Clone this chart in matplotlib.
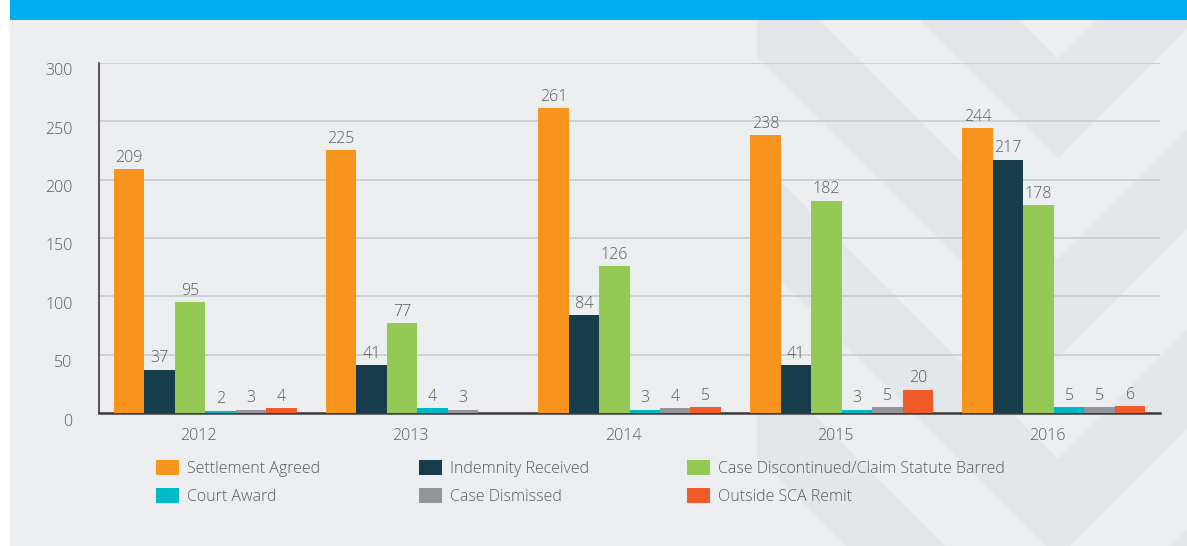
import matplotlib
matplotlib.use("Agg")
import matplotlib.pyplot as plt
import numpy as np
from matplotlib.patches import Rectangle, Polygon, Patch
from matplotlib.transforms import ScaledTranslation

years = ["2012", "2013", "2014", "2015", "2016"]
series = [
    "Settlement Agreed",
    "Indemnity Received",
    "Case Discontinued/Claim Statute Barred",
    "Court Award",
    "Case Dismissed",
    "Outside SCA Remit",
]
settlement = [209, 225, 261, 238, 244]
indemnity = [37, 41, 84, 41, 217]
discontinued = [95, 77, 126, 182, 178]
court_award = [2, 4, 3, 3, 5]
dismissed = [3, 3, 4, 5, 5]
outside_remit = [4, None, 5, 20, 6]
colors = ["#F7941D", "#173C4C", "#95C955", "#00B9C8", "#939598", "#F15A29"]

values = [settlement, indemnity, discontinued, court_award, dismissed, outside_remit]

W, H = 1187, 546
TEXT = "#58595B"
FS = 11.5
FONT = ["Open Sans", "DejaVu Sans"]
plt.rcParams["font.family"] = FONT

fig = plt.figure(figsize=(W / 100, H / 100), dpi=100)
fig.patch.set_facecolor("white")

# page background: blue header band, grey panel, faint chevrons
bg = fig.add_axes([0, 0, 1, 1])
bg.set_xlim(0, W)
bg.set_ylim(H, 0)
bg.axis("off")
bg.add_patch(Rectangle((10, 20), W - 10, H - 20, facecolor="#EDEEF0", edgecolor="none"))
bg.add_patch(Rectangle((10, 0), W - 10, 20, facecolor="#00AEEF", edgecolor="none"))

clip = Rectangle((757, 20), W - 757, H - 20, transform=bg.transData)
tip_x, thick, arm = 1058, 99, 600
for tip_y in [-42, 158, 358, 558, 758]:
    pts = [(tip_x - arm, tip_y - arm), (tip_x, tip_y), (tip_x + arm, tip_y - arm),
           (tip_x + arm, tip_y - thick - arm), (tip_x, tip_y - thick),
           (tip_x - arm, tip_y - thick - arm)]
    chev = Polygon(pts, closed=True, facecolor="#E4E7E9", edgecolor="none")
    bg.add_patch(chev)
    chev.set_clip_path(clip)

# main chart area
left, right, top, bottom = 99, 1160, 63, 413
ax = fig.add_axes([left / W, 1 - bottom / H, (right - left) / W, (bottom - top) / H])
ax.set_facecolor("none")

x = np.arange(len(years))
bw = 0.1437
for i, (name, vals, c) in enumerate(zip(series, values, colors)):
    pos = x + (i - 2.5) * bw
    for xp, v in zip(pos, vals):
        if v is None:
            continue
        ax.bar(xp, v, width=bw, color=c, zorder=3)
        ax.annotate(str(v), (xp, v), xytext=(0, 2.5), textcoords="offset points",
                    ha="center", va="bottom", fontsize=FS, color=TEXT,
                    fontweight="light", zorder=4)

ax.set_xlim(-0.5, len(years) - 0.5)
ax.set_ylim(0, 300)
ax.set_yticks(np.arange(0, 301, 50))
ax.set_xticks(x)
ax.set_xticklabels(years)
ax.grid(axis="y", color="#C6C8CA", linewidth=1.1, zorder=0)
ax.set_axisbelow(True)
ax.tick_params(length=0, labelsize=FS, labelcolor=TEXT)
ax.tick_params(axis="y", pad=19)
ax.tick_params(axis="x", pad=11)
for lab in ax.get_yticklabels():
    lab.set_fontweight("light")
    lab.set_transform(lab.get_transform() + ScaledTranslation(0, -0.065, fig.dpi_scale_trans))
for lab in ax.get_xticklabels():
    lab.set_fontweight("light")
    lab.set_transform(lab.get_transform() + ScaledTranslation(-0.065, 0, fig.dpi_scale_trans))

for s in ["top", "right"]:
    ax.spines[s].set_visible(False)
ax.spines["left"].set_color("#3C3C3E")
ax.spines["left"].set_linewidth(1.2)
ax.spines["bottom"].set_color("#3C3C3E")
ax.spines["bottom"].set_linewidth(1.8)

# legend laid out row by row in three columns
handles = [Patch(facecolor=c, edgecolor="none") for c in colors]
order = [0, 3, 1, 4, 2, 5]
leg = fig.legend([handles[k] for k in order], [series[k] for k in order],
                 ncol=3, loc="upper left", bbox_to_anchor=(156 / W, 1 - 460 / H),
                 frameon=False, borderpad=0, borderaxespad=0,
                 handlelength=1.45, handleheight=1.05, handletextpad=0.5,
                 labelspacing=0.72, columnspacing=6.15,
                 prop={"size": FS, "weight": "light", "family": FONT})
for t in leg.get_texts():
    t.set_color(TEXT)

fig.savefig("out.png", dpi=100)
